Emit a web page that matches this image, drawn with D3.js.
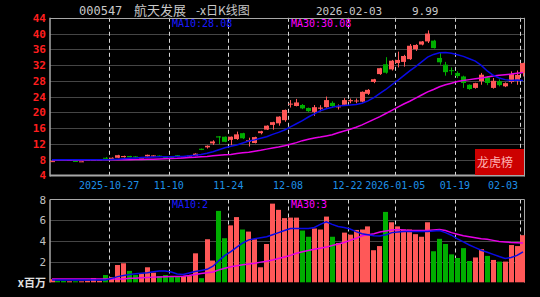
<!DOCTYPE html>
<html><head><meta charset="utf-8">
<script src="https://cdn.jsdelivr.net/npm/d3@7"></script>
<style>html,body{margin:0;padding:0;background:#000;}svg{display:block;}</style>
</head><body><svg id="c" width="540" height="297"></svg>
<script>
const dates = ["2025-10-13","2025-10-14","2025-10-15","2025-10-16","2025-10-17","2025-10-20","2025-10-21","2025-10-22","2025-10-23","2025-10-24",
"2025-10-27","2025-10-28","2025-10-29","2025-10-30","2025-10-31","2025-11-03","2025-11-04","2025-11-05","2025-11-06","2025-11-07",
"2025-11-10","2025-11-11","2025-11-12","2025-11-13","2025-11-14","2025-11-17","2025-11-18","2025-11-19","2025-11-20","2025-11-21",
"2025-11-24","2025-11-25","2025-11-26","2025-11-27","2025-11-28","2025-12-01","2025-12-02","2025-12-03","2025-12-04","2025-12-05",
"2025-12-08","2025-12-09","2025-12-10","2025-12-11","2025-12-12","2025-12-15","2025-12-16","2025-12-17","2025-12-18","2025-12-19",
"2025-12-22","2025-12-23","2025-12-24","2025-12-25","2025-12-26","2025-12-29","2025-12-30","2025-12-31","2026-01-05","2026-01-06",
"2026-01-07","2026-01-08","2026-01-09","2026-01-12","2026-01-13","2026-01-14","2026-01-15","2026-01-16","2026-01-19","2026-01-20",
"2026-01-21","2026-01-22","2026-01-23","2026-01-26","2026-01-27","2026-01-28","2026-01-29","2026-01-30","2026-02-02","2026-02-03"];

const opens = [7.55,7.95,7.95,7.9,7.65,7.5,7.9,7.9,7.95,8.45,
8.3,8.45,8.6,8.9,8.8,8.45,8.8,8.75,9.0,8.7,
8.6,9.1,8.6,8.8,8.9,10.75,11.1,12.1,13.9,13.8,
13.0,13.2,14.7,12.5,12.2,14.7,15.6,16.8,17.2,18.0,
22.0,21.6,21.85,21.1,20.1,20.9,21.3,22.4,21.3,21.9,
22.8,22.8,22.7,24.7,27.7,29.7,32.2,30.9,32.5,32.8,
33.5,36.0,37.2,38.0,38.2,33.8,32.1,30.7,30.0,29.1,
27.0,26.2,27.9,28.9,26.2,27.9,26.6,27.7,28.0,30.0];
const highs = [7.65,8.0,8.0,8.0,7.7,7.6,8.0,8.0,8.05,8.65,
8.55,9.2,9.0,8.95,8.85,8.55,9.25,9.1,9.05,8.75,
8.65,9.15,8.85,9.05,9.6,10.8,11.6,12.9,13.95,13.85,
13.85,15.1,14.8,13.55,13.8,15.3,16.7,17.6,19.0,20.7,
23.1,23.4,22.1,21.2,21.85,21.8,24.0,22.8,22.0,23.6,
23.5,23.5,25.3,25.9,28.5,31.3,34.0,33.3,35.4,34.6,
37.35,37.3,38.1,40.8,38.4,35.1,32.8,31.4,30.4,29.3,
27.1,27.5,30.0,29.2,28.7,28.4,27.6,30.4,30.6,32.6];
const lows = [7.45,7.85,7.85,7.85,7.5,7.45,7.85,7.85,7.9,8.2,
8.25,8.35,8.5,8.55,8.55,8.4,8.7,8.7,8.7,8.3,
8.35,8.65,8.55,8.75,8.85,10.4,10.8,11.7,11.95,12.4,
11.6,13.0,13.2,11.3,12.1,14.4,15.5,15.6,16.6,17.6,
21.2,21.5,20.8,20.1,19.1,20.2,21.2,21.2,20.7,21.8,
22.3,22.3,22.5,24.4,27.4,29.5,29.8,30.6,31.4,31.6,
33.3,35.6,37.0,37.6,36.2,32.1,29.3,29.5,28.7,26.2,
25.7,26.0,27.0,26.9,26.0,26.6,26.4,27.3,27.0,29.1];
const closes = [7.6,7.9,7.9,7.95,7.55,7.55,7.95,8.0,8.0,8.35,
8.45,9.1,8.9,8.6,8.6,8.5,9.2,9.05,8.75,8.4,
8.4,8.7,8.8,9.0,9.5,10.45,11.5,12.6,13.6,12.5,
13.8,14.4,13.4,12.9,13.7,15.2,16.6,17.5,18.9,20.6,
22.2,22.5,21.0,20.3,21.3,21.2,23.1,21.6,21.5,23.1,
23.1,23.0,25.2,25.7,28.4,31.2,30.05,33.1,33.3,34.3,
36.9,37.1,38.0,40.0,36.3,32.7,30.2,30.5,29.2,27.45,
25.9,27.4,29.55,27.45,28.0,26.9,27.4,29.7,29.5,32.5];
const volumes = [0.3,0.12,0.12,0.1,0.1,0.1,0.15,0.4,0.15,0.7,
0.5,1.67,1.84,1.1,0.7,0.87,1.45,0.93,0.6,0.7,
0.6,0.6,0.6,0.6,2.8,0.4,4.16,2.1,6.9,4.26,
5.5,6.3,5.1,4.9,4.16,1.45,3.7,7.6,7.0,6.2,
6.25,6.25,5.0,4.4,5.2,5.1,6.35,4.4,3.8,4.8,
4.6,5.06,5.1,5.4,3.1,3.5,6.8,5.8,5.4,5.1,
5.1,4.65,4.4,5.8,3.0,4.2,3.7,2.7,2.35,3.3,
2.06,2.4,3.2,2.55,2.16,2.0,2.0,3.6,3.5,4.55];
const ma10 = [7.95,7.95,7.95,7.95,7.95,7.95,7.95,7.95,7.95,7.97,
8.0,8.1,8.2,8.3,8.4,8.5,8.6,8.65,8.7,8.72,
8.73,8.75,8.8,8.95,9.1,9.3,9.6,10.0,10.5,11.0,
11.4,11.7,12.2,12.7,13.0,13.4,13.8,14.4,14.9,15.5,
16.3,17.1,17.9,18.8,19.6,20.4,20.9,21.3,21.6,21.75,
21.85,22.0,22.3,22.9,23.7,24.8,25.8,27.0,28.1,29.3,
30.5,31.6,32.8,34.0,34.7,35.1,35.2,35.0,34.6,34.2,
33.6,33.0,31.9,30.5,29.4,28.7,28.3,28.1,28.2,28.08];
const ma30 = [7.9,7.9,7.9,7.9,7.9,7.9,7.92,7.95,7.95,7.96,
7.97,7.97,7.98,7.98,8.0,8.02,8.05,8.1,8.15,8.2,
8.25,8.3,8.4,8.5,8.6,8.7,8.8,8.95,9.1,9.2,
9.3,9.55,9.7,9.85,10.1,10.35,10.65,10.95,11.2,11.5,
11.9,12.3,12.8,13.15,13.45,13.7,14.0,14.3,14.8,15.25,
15.7,16.2,16.8,17.5,18.2,18.9,19.7,20.5,21.3,22.1,
22.8,23.6,24.4,25.2,25.8,26.5,27.0,27.4,27.8,28.05,
28.3,28.5,28.7,28.95,29.2,29.4,29.55,29.7,29.9,30.08];
const volMa10 = [0.22,0.22,0.22,0.22,0.22,0.22,0.22,0.22,0.22,0.22,
0.38,0.55,0.65,0.75,0.82,0.88,0.93,1.02,1.09,1.09,
1.0,0.8,0.75,0.9,1.05,1.15,1.25,1.55,2.1,2.6,
2.96,3.4,3.8,4.1,4.2,4.3,4.4,4.6,4.8,5.0,
5.2,5.2,5.2,5.2,5.3,5.6,5.85,5.6,5.4,5.3,
5.15,4.9,4.7,4.6,4.5,4.47,4.6,4.8,4.85,4.9,
4.9,4.9,4.9,4.9,4.95,5.0,4.8,4.55,4.2,3.9,
3.6,3.35,3.1,2.9,2.7,2.5,2.3,2.4,2.6,2.95];
const volMa30 = [0.33,0.33,0.33,0.33,0.33,0.33,0.33,0.33,0.33,0.33,
0.33,0.33,0.33,0.38,0.4,0.43,0.46,0.5,0.52,0.54,
0.55,0.56,0.58,0.65,0.75,0.85,0.92,1.0,1.2,1.35,
1.5,1.6,1.7,1.77,1.85,1.95,2.03,2.15,2.3,2.45,
2.6,2.8,2.96,3.08,3.2,3.3,3.4,3.55,3.7,3.85,
4.05,4.25,4.5,4.6,4.7,4.85,4.95,5.05,5.1,5.05,
5.0,5.0,5.0,5.0,5.05,5.1,5.0,4.8,4.65,4.5,
4.4,4.3,4.2,4.15,4.05,3.95,3.9,3.85,3.82,3.8];

const tickDates = ["2025-10-27","2025-11-10","2025-11-24","2025-12-08","2025-12-22","2026-01-05","2026-01-19","2026-02-03"];
const tickLabels = ["2025-10-27","11-10","11-24","12-08","12-22","2026-01-05","01-19","02-03"];
const priceTicks = [4,8,12,16,20,24,28,32,36,40,44];
const volTicks = [2,4,6,8];

const headerCode = "000547", headerName = "航天发展", headerType = "-x日K线图", headerDate = "2026-02-03", headerValue = "9.99";
const maLabel10 = "MA10:28.08", maLabel30 = "MA30:30.08";
const volLabel10 = "MA10:2", volLabel30 = "MA30:3";
const volUnit = "x百万", badge = "龙虎榜";

const RED = "#ff5858", GREEN = "#00ae00", BLUE = "#0a0ae6", MAG = "#e600e6";
const svg = d3.select("#c");
const L = 49.5, R = 525.5;
const x = d3.scaleBand().domain(dates).range([L, R]).paddingInner(0.16).paddingOuter(0);
const bw = x.bandwidth();
const cx = d => x(d) + bw / 2;
const y = d3.scaleLinear().domain([4, 44]).range([175.3, 17.8]);
const yv = d3.scaleLinear().domain([0, 8]).range([282.3, 199.5]);

const g = svg.append("g");
const mono = "'DejaVu Sans Mono', monospace";

// Header
const hdr = g.append("g").attr("fill", "#c8c8c8").attr("font-size", 12);
hdr.append("text").attr("x", 79).attr("y", 15).attr("font-family", mono).text(headerCode);
hdr.append("text").attr("x", 134).attr("y", 15).attr("font-family", "'Noto Sans CJK SC'").attr("font-size", 13).text(headerName);
hdr.append("text").attr("x", 196).attr("y", 15).attr("font-family", "'Noto Sans CJK SC'").attr("font-size", 12).text(headerType);
hdr.append("text").attr("x", 316).attr("y", 15).attr("font-family", mono).attr("font-size", 11).text(headerDate);
hdr.append("text").attr("x", 412).attr("y", 15).attr("font-family", mono).attr("font-size", 11).text(headerValue);

// Horizontal gridlines (main)
g.append("g").selectAll("line").data(priceTicks.filter(t => t > 4 && t < 44)).join("line")
  .attr("x1", L + 1).attr("x2", 524).attr("y1", d => Math.round(y(d)) + 0.5).attr("y2", d => Math.round(y(d)) + 0.5)
  .attr("stroke", "#8a8a8a").attr("stroke-dasharray", "1,1");
// Horizontal gridlines (volume)
g.append("g").selectAll("line").data(volTicks.filter(t => t < 8)).join("line")
  .attr("x1", L + 1).attr("x2", 524).attr("y1", d => Math.round(yv(d)) + 0.5).attr("y2", d => Math.round(yv(d)) + 0.5)
  .attr("stroke", "#8a8a8a").attr("stroke-dasharray", "1,1");

// Vertical dashed gridlines
tickDates.forEach(d => {
  const xx = Math.round(x(d)) + 0.5;
  g.append("line").attr("x1", xx).attr("x2", xx).attr("y1", y(44)).attr("y2", y(4))
    .attr("stroke", "#d8d8d8").attr("stroke-dasharray", "4,3");
  g.append("line").attr("x1", xx).attr("x2", xx).attr("y1", yv(8)).attr("y2", yv(0))
    .attr("stroke", "#d8d8d8").attr("stroke-dasharray", "4,3");
});

// Frames
const frame = g.append("g").attr("stroke", "#a8a8a8").attr("fill", "none");
frame.append("line").attr("x1", 50).attr("x2", 524.5).attr("y1", Math.round(y(44)) + 0.5).attr("y2", Math.round(y(44)) + 0.5);
frame.append("line").attr("x1", 50).attr("x2", 524.5).attr("y1", 175.5).attr("y2", 175.5).attr("stroke-width", 2);
frame.append("line").attr("x1", 50).attr("x2", 50).attr("y1", y(44)).attr("y2", 176.5).attr("stroke-width", 1.5);
frame.append("line").attr("x1", 524.5).attr("x2", 524.5).attr("y1", y(44)).attr("y2", 176.5);
frame.append("line").attr("x1", 50).attr("x2", 524.5).attr("y1", 199.5).attr("y2", 199.5);
frame.append("line").attr("x1", 50).attr("x2", 50).attr("y1", 199.5).attr("y2", 282.5).attr("stroke-width", 1.5);
frame.append("line").attr("x1", 524.5).attr("x2", 524.5).attr("y1", 199.5).attr("y2", 282.5);

// Y labels
g.append("g").attr("fill", "#ff1e1e").attr("font-family", mono).attr("font-size", 11).attr("font-weight", "bold")
  .attr("text-anchor", "end").selectAll("text").data(priceTicks).join("text")
  .attr("x", 46).attr("y", d => y(d) + 4).text(d => d);
g.append("g").attr("fill", "#c0c0c0").attr("font-family", mono).attr("font-size", 11)
  .attr("text-anchor", "end").selectAll("text").data(volTicks).join("text")
  .attr("x", 46).attr("y", d => yv(d) + 4).text(d => d);
g.append("text").attr("x", 46).attr("y", 287).attr("text-anchor", "end").attr("fill", "#e0e0e0")
  .attr("font-family", "'Noto Sans CJK SC'").attr("font-size", 11).attr("font-weight", "bold").text(volUnit);

// X labels
g.append("g").attr("fill", "#1e90e8").attr("font-family", mono).attr("font-size", 10)
  .selectAll("text").data(tickDates).join("text")
  .attr("x", (d, i) => { const xx = x(d); const w = tickLabels[i].length * 6.02; return Math.min(xx, 518 - w / 2); })
  .attr("y", 189).attr("text-anchor", "middle").text((d, i) => tickLabels[i]);

// Candles
const idx = d3.range(dates.length);
const up = i => closes[i] >= opens[i];
const cg = g.append("g");
cg.selectAll("line").data(idx).join("line")
  .attr("x1", i => Math.round(cx(dates[i])) + 0.5).attr("x2", i => Math.round(cx(dates[i])) + 0.5)
  .attr("y1", i => y(highs[i])).attr("y2", i => y(lows[i]))
  .attr("stroke", i => up(i) ? RED : GREEN);
cg.selectAll("rect").data(idx).join("rect")
  .attr("x", i => Math.round(x(dates[i]))).attr("width", Math.round(bw))
  .attr("y", i => y(Math.max(opens[i], closes[i])))
  .attr("height", i => Math.max(1, y(Math.min(opens[i], closes[i])) - y(Math.max(opens[i], closes[i]))))
  .attr("fill", i => up(i) ? RED : GREEN);

// Volume bars
g.append("g").selectAll("rect").data(idx).join("rect")
  .attr("x", i => Math.round(x(dates[i]))).attr("width", Math.round(bw))
  .attr("y", i => yv(volumes[i])).attr("height", i => yv(0) - yv(volumes[i]))
  .attr("fill", i => up(i) ? RED : GREEN);

// MA lines
const lineP = arr => d3.line().x((v, i) => cx(dates[i])).y(v => y(v))(arr);
const lineV = arr => d3.line().x((v, i) => cx(dates[i])).y(v => yv(v))(arr);
g.append("path").attr("d", lineP(ma30)).attr("fill", "none").attr("stroke", MAG).attr("stroke-width", 1.5);
g.append("path").attr("d", lineP(ma10)).attr("fill", "none").attr("stroke", BLUE).attr("stroke-width", 1.5);
g.append("path").attr("d", lineV(volMa30)).attr("fill", "none").attr("stroke", MAG).attr("stroke-width", 1.5);
g.append("path").attr("d", lineV(volMa10)).attr("fill", "none").attr("stroke", BLUE).attr("stroke-width", 1.5);

// MA labels
const lab = g.append("g").attr("font-family", mono).attr("font-size", 10);
lab.append("text").attr("x", 172).attr("y", 27).attr("fill", "#1a1aff").text(maLabel10);
lab.append("text").attr("x", 291).attr("y", 27).attr("fill", "#ff00ff").text(maLabel30);
lab.append("text").attr("x", 172).attr("y", 208).attr("fill", "#1a1aff").text(volLabel10);
lab.append("text").attr("x", 291).attr("y", 208).attr("fill", "#ff00ff").text(volLabel30);

// Badge
g.append("rect").attr("x", 475).attr("y", 149).attr("width", 49).attr("height", 26).attr("fill", "#cc0000");
g.append("text").attr("x", 477).attr("y", 167).attr("fill", "#ffb4b4").attr("font-family", "'Noto Sans CJK SC'")
  .attr("font-size", 12).text(badge);
</script></body></html>
